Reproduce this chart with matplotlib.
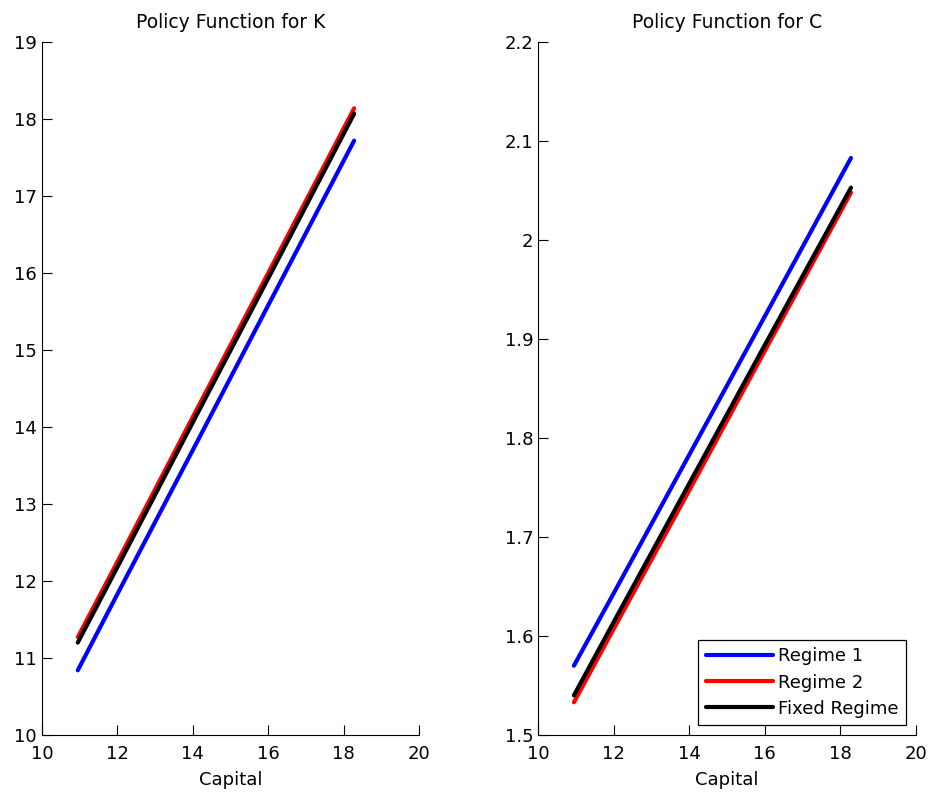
import matplotlib
matplotlib.use('Agg')
import matplotlib.pyplot as plt

plt.rcParams['font.family'] = ['DejaVu Sans']

# capital grid
capital = [10.95, 12, 14, 16, 18.28]

# policy function for K
k_regime1 = [10.84, 11.83, 13.70, 15.58, 17.72]
k_regime2 = [11.27, 12.25, 14.13, 16.00, 18.14]
k_fixed = [11.20, 12.18, 14.06, 15.93, 18.07]

# policy function for C
c_regime1 = [1.570, 1.643, 1.783, 1.923, 2.083]
c_regime2 = [1.533, 1.607, 1.747, 1.888, 2.048]
c_fixed = [1.540, 1.614, 1.754, 1.894, 2.053]

labels = ['Regime 1', 'Regime 2', 'Fixed Regime']
colors = ['#0000ff', '#ff0000', '#000000']

fig = plt.figure(figsize=(9.35, 7.95), dpi=100)
ax1 = fig.add_axes([0.0449, 0.0755, 0.4032, 0.8715])
ax2 = fig.add_axes([0.5754, 0.0755, 0.4043, 0.8715])


def style(ax, title):
    for s in ['top', 'right']:
        ax.spines[s].set_visible(False)
    for s in ['left', 'bottom']:
        ax.spines[s].set_linewidth(0.8)
    ax.tick_params(direction='in', length=7, width=0.8, labelsize=13, colors='black')
    ax.tick_params(axis='x', pad=7)
    ax.set_xlim(10, 20)
    ax.set_xticks([10, 12, 14, 16, 18, 20])
    ax.set_xlabel('Capital', fontsize=13, labelpad=6)
    ax.set_title(title, fontsize=13.5, pad=10)


for ys, c, l in zip([k_regime1, k_regime2, k_fixed], colors, labels):
    ax1.plot(capital, ys, color=c, lw=3, label=l, solid_capstyle='round')
ax1.set_ylim(10, 19)
ax1.set_yticks(range(10, 20))
style(ax1, 'Policy Function for K')

for ys, c, l in zip([c_regime1, c_regime2, c_fixed], colors, labels):
    ax2.plot(capital, ys, color=c, lw=3, label=l, solid_capstyle='round')
ax2.set_ylim(1.5, 2.2)
ax2.set_yticks([1.5, 1.6, 1.7, 1.8, 1.9, 2.0, 2.1, 2.2])
ax2.set_yticklabels(['1.5', '1.6', '1.7', '1.8', '1.9', '2', '2.1', '2.2'])
style(ax2, 'Policy Function for C')

leg = ax2.legend(loc='lower right', bbox_to_anchor=(0.974, 0.0145), fontsize=13,
                 fancybox=False, edgecolor='black', framealpha=1,
                 handlelength=3.7, handletextpad=0.33, borderpad=0.4,
                 labelspacing=0.45, borderaxespad=0)
leg.get_frame().set_linewidth(0.9)

fig.savefig('out.png', dpi=100)
